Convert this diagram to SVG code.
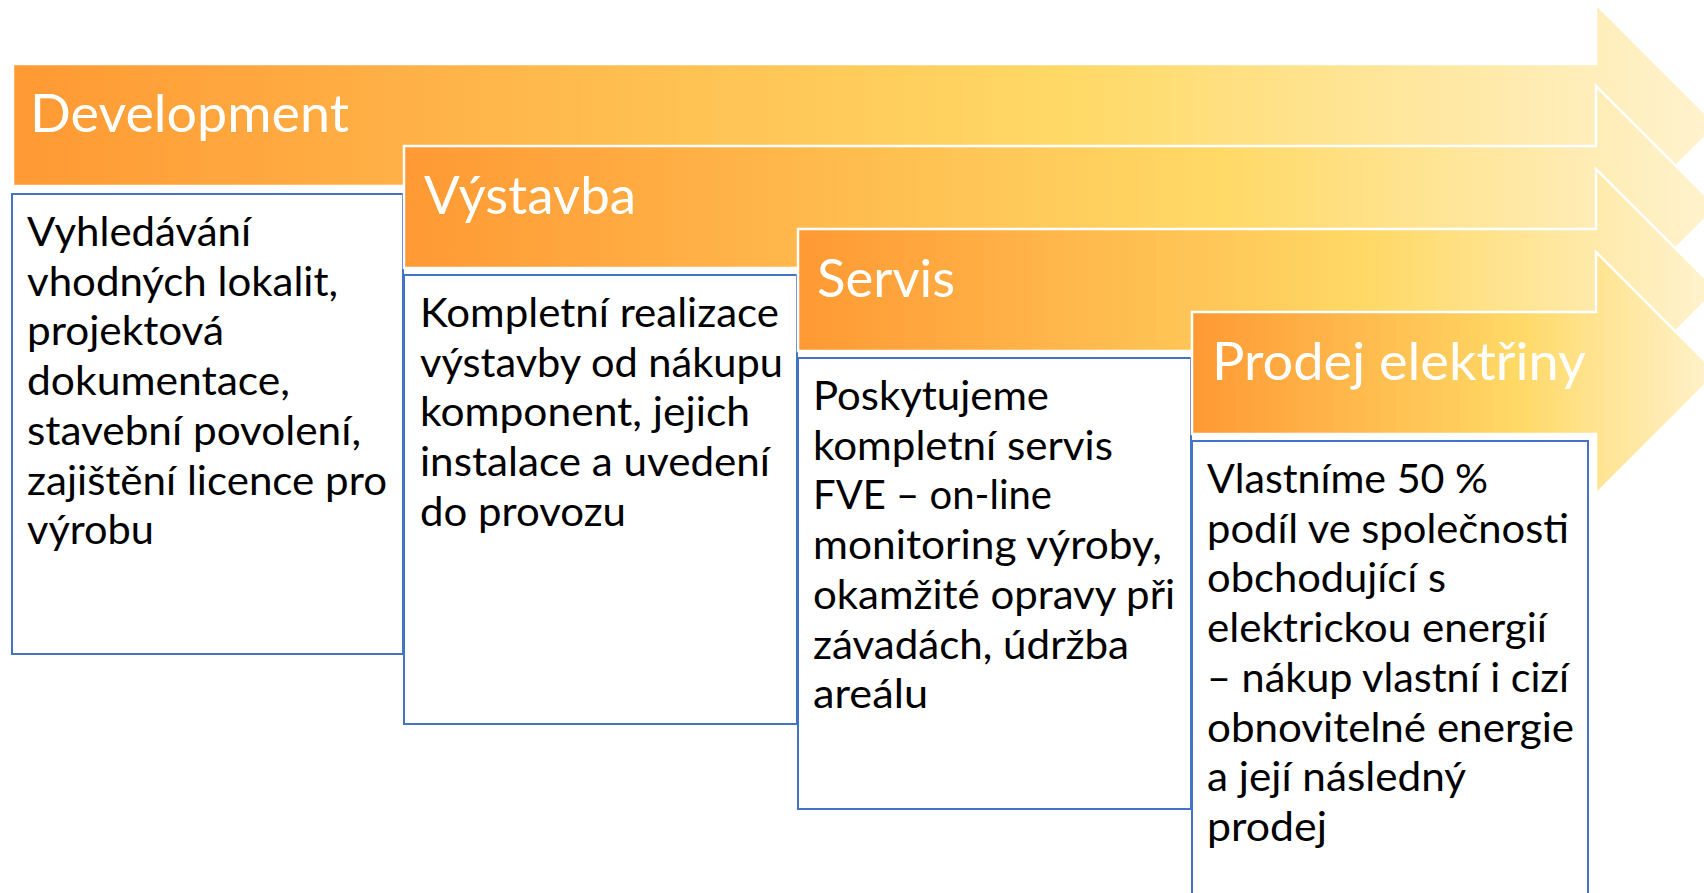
<svg xmlns="http://www.w3.org/2000/svg" width="1704" height="893" viewBox="0 0 1704 893">
<defs>
<linearGradient id="grad" x1="0" y1="0" x2="1" y2="0">
<stop offset="0" stop-color="#FF9933"/>
<stop offset="0.62" stop-color="#FFD966"/>
<stop offset="1" stop-color="#FFF3CF"/>
</linearGradient>
</defs>
<style>
.arrow{fill:url(#grad);stroke:#FFFFFF;stroke-width:2.5;stroke-linejoin:miter}
.box{fill:#FFFFFF;stroke:#4472C4;stroke-width:2}
.hd{font-family:Lato,"Open Sans","Noto Sans",sans-serif;font-size:52px;fill:#FFFFFF}
.bd{font-family:Lato,"Open Sans","Noto Sans",sans-serif;font-size:40px;fill:#000000}
</style>
<rect x="0" y="0" width="1704" height="893" fill="#FFFFFF"/>
<g id="connectors"></g>
<g id="node-development">
<path class="arrow" d="M13,64 H1596 V4 L1717,125 L1596,246 V186 H13 Z"/>
<rect class="box" x="12" y="194" width="391" height="460"/>
<text class="hd" x="30" y="132" textLength="319" lengthAdjust="spacingAndGlyphs">Development</text>
<text class="bd" x="27" y="246" textLength="224" lengthAdjust="spacingAndGlyphs">Vyhledávání</text>
<text class="bd" x="27" y="295.7" textLength="311" lengthAdjust="spacingAndGlyphs">vhodných lokalit,</text>
<text class="bd" x="27" y="345.4" textLength="197" lengthAdjust="spacingAndGlyphs">projektová</text>
<text class="bd" x="27" y="395.1" textLength="263" lengthAdjust="spacingAndGlyphs">dokumentace,</text>
<text class="bd" x="27" y="444.8" textLength="334" lengthAdjust="spacingAndGlyphs">stavební povolení,</text>
<text class="bd" x="27" y="494.5" textLength="360" lengthAdjust="spacingAndGlyphs">zajištění licence pro</text>
<text class="bd" x="27" y="544.2" textLength="127" lengthAdjust="spacingAndGlyphs">výrobu</text>
</g>
<g id="node-vystavba">
<path class="arrow" d="M404,146 H1596 V86 L1717,207 L1596,328 V268 H404 Z"/>
<rect class="box" x="404" y="275" width="393" height="449"/>
<text class="hd" x="424" y="214" textLength="212" lengthAdjust="spacingAndGlyphs">Výstavba</text>
<text class="bd" x="420" y="327" textLength="359" lengthAdjust="spacingAndGlyphs">Kompletní realizace</text>
<text class="bd" x="420" y="376.7" textLength="363" lengthAdjust="spacingAndGlyphs">výstavby od nákupu</text>
<text class="bd" x="420" y="426.4" textLength="330" lengthAdjust="spacingAndGlyphs">komponent, jejich</text>
<text class="bd" x="420" y="476.1" textLength="350" lengthAdjust="spacingAndGlyphs">instalace a uvedení</text>
<text class="bd" x="420" y="525.8" textLength="206" lengthAdjust="spacingAndGlyphs">do provozu</text>
</g>
<g id="node-servis">
<path class="arrow" d="M798,229 H1596 V169 L1717,290 L1596,411 V351 H798 Z"/>
<rect class="box" x="798" y="358" width="393" height="451"/>
<text class="hd" x="817" y="297" textLength="138" lengthAdjust="spacingAndGlyphs">Servis</text>
<text class="bd" x="813" y="410" textLength="236" lengthAdjust="spacingAndGlyphs">Poskytujeme</text>
<text class="bd" x="813" y="459.7" textLength="300" lengthAdjust="spacingAndGlyphs">kompletní servis</text>
<text class="bd" x="813" y="509.4" textLength="239" lengthAdjust="spacingAndGlyphs">FVE – on-line</text>
<text class="bd" x="813" y="559.1" textLength="349" lengthAdjust="spacingAndGlyphs">monitoring výroby,</text>
<text class="bd" x="813" y="608.8" textLength="362" lengthAdjust="spacingAndGlyphs">okamžité opravy při</text>
<text class="bd" x="813" y="658.5" textLength="316" lengthAdjust="spacingAndGlyphs">závadách, údržba</text>
<text class="bd" x="813" y="708.2" textLength="115" lengthAdjust="spacingAndGlyphs">areálu</text>
</g>
<g id="node-prodej">
<path class="arrow" d="M1192,312 H1596 V252 L1717,373 L1596,494 V434 H1192 Z"/>
<rect class="box" x="1192" y="441" width="396" height="470"/>
<text class="hd" x="1212" y="380" textLength="374" lengthAdjust="spacingAndGlyphs">Prodej elektřiny</text>
<text class="bd" x="1207" y="493" textLength="281" lengthAdjust="spacingAndGlyphs">Vlastníme 50 %</text>
<text class="bd" x="1207" y="542.7" textLength="362" lengthAdjust="spacingAndGlyphs">podíl ve společnosti</text>
<text class="bd" x="1207" y="592.4" textLength="239" lengthAdjust="spacingAndGlyphs">obchodující s</text>
<text class="bd" x="1207" y="642.1" textLength="340" lengthAdjust="spacingAndGlyphs">elektrickou energií</text>
<text class="bd" x="1207" y="691.8" textLength="362" lengthAdjust="spacingAndGlyphs">– nákup vlastní i cizí</text>
<text class="bd" x="1207" y="741.5" textLength="367" lengthAdjust="spacingAndGlyphs">obnovitelné energie</text>
<text class="bd" x="1207" y="791.2" textLength="259" lengthAdjust="spacingAndGlyphs">a její následný</text>
<text class="bd" x="1207" y="840.9" textLength="120" lengthAdjust="spacingAndGlyphs">prodej</text>
</g>
</svg>
